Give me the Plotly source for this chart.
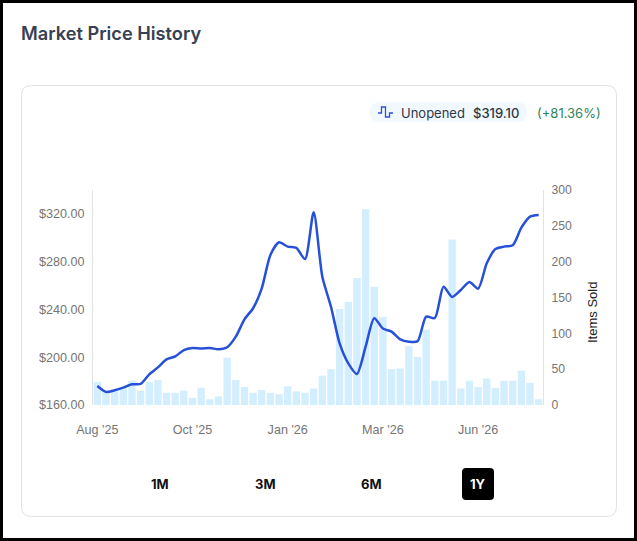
import plotly.graph_objects as go

W, H = 637, 541
PLOT_L, PLOT_R, PLOT_T, PLOT_B = 93, 543, 190, 405

week = list(range(52))
price = [175.95, 171, 172.3, 174.5, 177.3, 177.6, 185.7, 191.5, 198.2, 200.7,
         206, 207.7, 207.2, 207.7, 206.6, 208.3, 217.2, 231.7, 241, 257.7,
         285.6, 296.2, 292.6, 291.5, 282.2, 321.3, 267.4, 242.3, 211.6, 194.9,
         186, 208.8, 232.6, 224, 221.4, 215, 213, 213.3, 234, 232.8,
         259, 250.4, 256.3, 263, 257.4, 278.6, 290.6, 292.6, 293.7, 308.5,
         317.7, 319.1]
sold = [32, 20, 22, 24, 34, 20, 32, 35, 17, 17,
        20, 10, 24, 8, 12, 66, 35, 25, 17, 21,
        17, 15, 26, 19, 17, 23, 41, 50, 134, 144,
        177, 273, 165, 123, 50, 51, 82, 67, 105, 34,
        34, 231, 23, 34, 25, 37, 24, 34, 34, 48,
        31, 8]
tick_weeks = [0, 11, 22, 33, 44]
tick_text = ["Aug '25", "Oct '25", "Jan '26", "Mar '26", "Jun '26"]
price_ticks = [160, 200, 240, 280, 320]
price_text = ["$160.00", "$200.00", "$240.00", "$280.00", "$320.00"]
sold_ticks = [0, 50, 100, 150, 200, 250, 300]
ranges = ["1M", "3M", "6M", "1Y"]
range_x = [159.5, 265, 371, 477.5]


# page pixels to paper coordinates
def px(x):
    return (x - PLOT_L) / (PLOT_R - PLOT_L)


def py(y):
    return (PLOT_B - y) / (PLOT_B - PLOT_T)


def round_rect(x0, y0, x1, y1, r):
    return (f"M {px(x0 + r)} {py(y0)} L {px(x1 - r)} {py(y0)} "
            f"Q {px(x1)} {py(y0)} {px(x1)} {py(y0 + r)} L {px(x1)} {py(y1 - r)} "
            f"Q {px(x1)} {py(y1)} {px(x1 - r)} {py(y1)} L {px(x0 + r)} {py(y1)} "
            f"Q {px(x0)} {py(y1)} {px(x0)} {py(y1 - r)} L {px(x0)} {py(y0 + r)} "
            f"Q {px(x0)} {py(y0)} {px(x0 + r)} {py(y0)} Z")


def box(path, fill, line="rgba(0,0,0,0)", width=1):
    return dict(type="path", path=path, xref="paper", yref="paper", layer="below",
                fillcolor=fill, line=dict(color=line, width=width))


def label(text, x, y, size, color, anchor="left", weight=400, family="Inter", angle=0):
    return dict(text=text, x=px(x), y=py(y), xref="paper", yref="paper", showarrow=False,
                xanchor=anchor, yanchor="middle", textangle=angle,
                font=dict(family=family, size=size, color=color, weight=weight))


# step icon in the legend pill
icon = [(378, 113), (381.5, 113), (381.5, 107), (385.5, 107), (385.5, 117), (389.5, 117), (389.5, 113), (393, 113)]
icon_path = "M " + " L ".join(f"{px(a)} {py(b)}" for a, b in icon)

shapes = [
    box(round_rect(3, 3, 634, 538, 0), "white"),
    box(round_rect(21.5, 85.5, 616.5, 516.5, 10), "white", "#e2e2e2", 1),
    box(round_rect(370, 102, 527, 122, 10), "#f1f8fe"),
    dict(type="path", path=icon_path, xref="paper", yref="paper",
         line=dict(color="#2a52d8", width=1.3)),
    box(round_rect(462, 468, 494, 500, 4), "#000000"),
]

annotations = [
    label("Market Price History", 19, 33, 18.2, "#374151", weight=600),
    label("Unopened", 399, 112.5, 13, "#2d3748"),
    label("$319.10", 471, 112.5, 13, "#2d3748", weight=500),
    label("(+81.36%)", 535, 112.5, 13, "#2f855a"),
    label("Items Sold", 592, 313, 13, "#222222", anchor="center",
          family="Liberation Sans", angle=-90),
]
for name, x in zip(ranges, range_x):
    annotations.append(label(name, x, 484, 13, "white" if name == "1Y" else "#111111",
                             anchor="center", weight=700))

fig = go.Figure()
fig.add_trace(go.Bar(x=week, y=sold, marker=dict(color="#d3eeff", line_width=0), yaxis="y"))
fig.add_trace(go.Scatter(x=week, y=price, mode="lines", yaxis="y2",
                         line=dict(color="#2650d8", width=2.5, shape="spline", smoothing=0.7)))

tick_font = dict(family="Liberation Sans", size=12.6, color="#757575")
fig.update_layout(
    width=W, height=H, autosize=False, showlegend=False, bargap=0.15,
    margin=dict(l=PLOT_L, r=W - PLOT_R, t=PLOT_T, b=H - PLOT_B, pad=0),
    paper_bgcolor="black", plot_bgcolor="rgba(0,0,0,0)",
    shapes=shapes, annotations=annotations,
    xaxis=dict(range=[-0.5, 51.5], tickvals=tick_weeks, ticktext=tick_text, tickfont=tick_font,
               showgrid=False, zeroline=False, showline=False, ticks="outside", ticklen=13,
               tickcolor="rgba(0,0,0,0)"),
    yaxis=dict(range=[0, 300], side="right", tickvals=sold_ticks,
               tickfont=dict(family="Liberation Sans", size=12.2, color="#757575"),
               showgrid=False, zeroline=False, showline=True, linecolor="#e3e3e3",
               ticks="outside", ticklen=5, tickcolor="rgba(0,0,0,0)"),
    yaxis2=dict(range=[160, 340], side="left", overlaying="y", tickvals=price_ticks,
                ticktext=price_text, tickfont=tick_font,
                showgrid=False, zeroline=False, showline=True, linecolor="#e3e3e3",
                ticks="outside", ticklen=5, tickcolor="rgba(0,0,0,0)"),
)

fig.write_html("out.html", config={"displayModeBar": False},
               post_script="document.body.style.margin='0';document.body.style.overflow='hidden';")
